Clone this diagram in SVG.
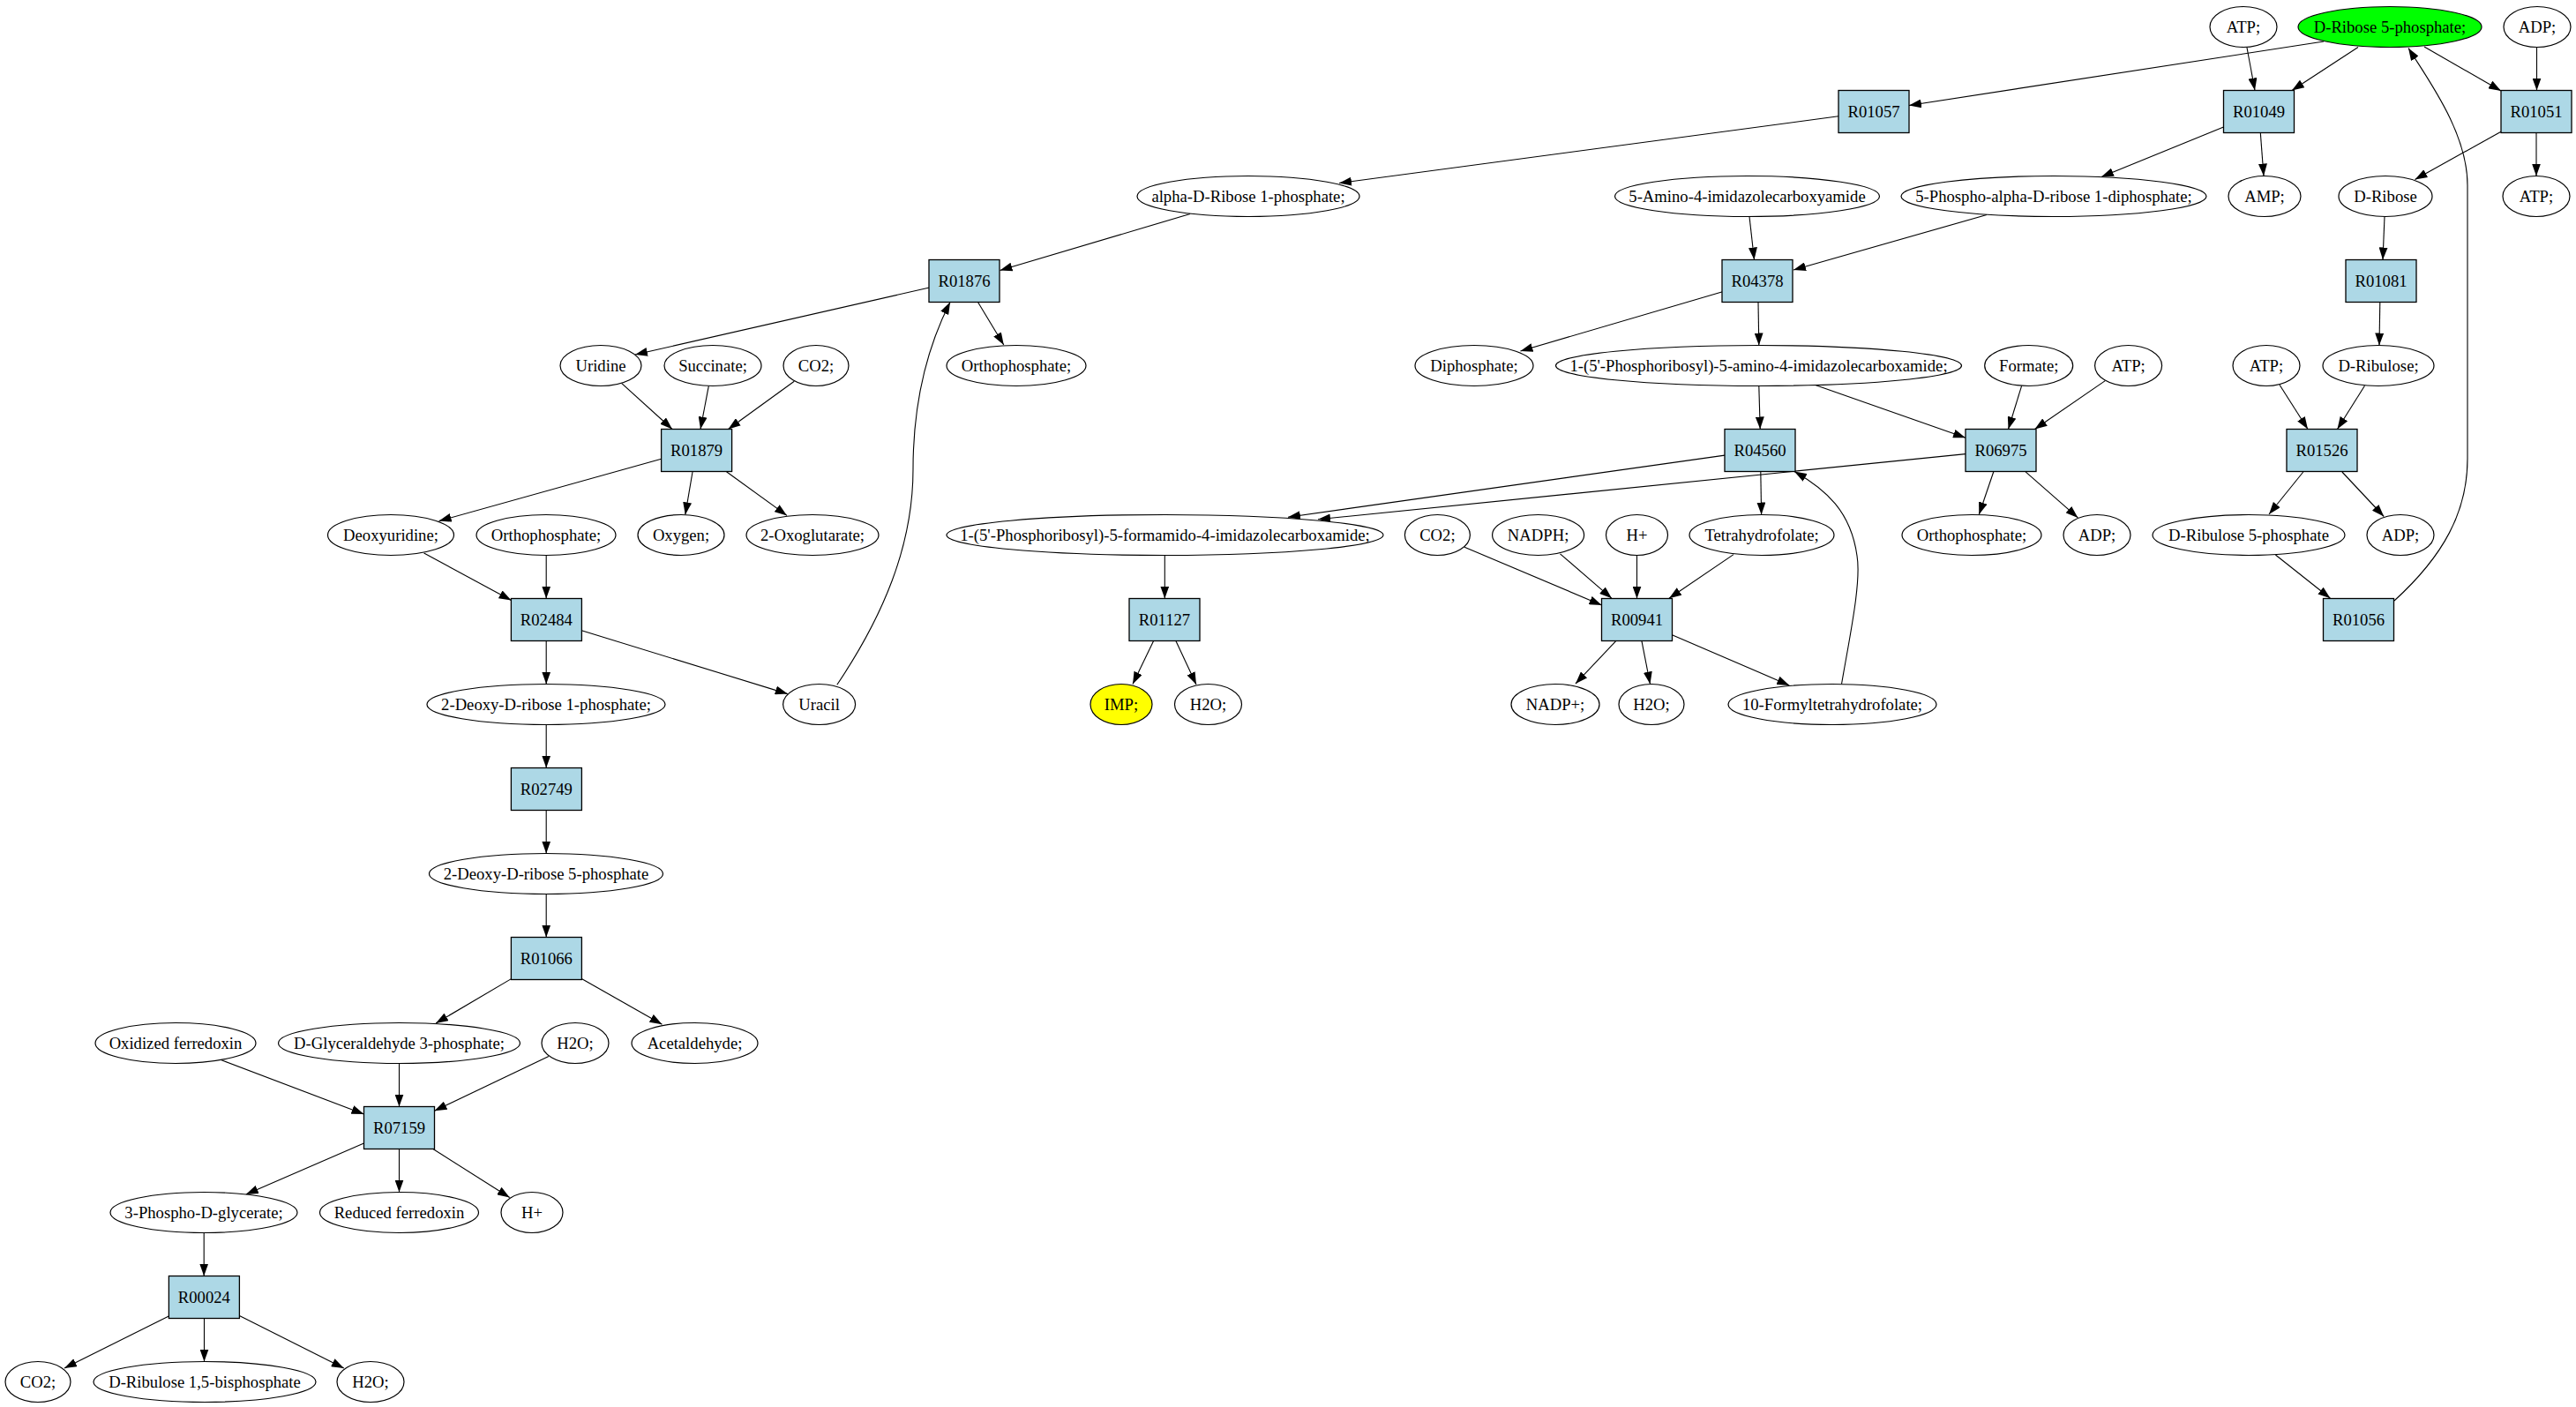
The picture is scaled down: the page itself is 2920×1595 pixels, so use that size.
<svg xmlns="http://www.w3.org/2000/svg" width="2920" height="1595" viewBox="0 0 2920 1595">
<style>
.e{fill:#ffffff;stroke:#000;stroke-width:1.2}
.g{fill:#00ff00;stroke:#000;stroke-width:1.2}
.y{fill:#ffff00;stroke:#000;stroke-width:1.2}
.r{fill:#add8e6;stroke:#000;stroke-width:1.3}
text{font-family:"Liberation Serif","Times New Roman",serif;font-size:18.67px;text-anchor:middle;fill:#000}
#edges path{fill:none;stroke:#000;stroke-width:1.1;marker-end:url(#ah)}
</style>
<defs>
<marker id="ah" markerUnits="userSpaceOnUse" markerWidth="14" markerHeight="10" viewBox="0 0 14 10" refX="14" refY="5" orient="auto">
<path d="M0,0 L14,5 L0,10 z" fill="#000"/>
</marker>
</defs>
<rect width="2920" height="1595" fill="#fff"/>
<g id="edges">
<path d="M2634,47 L2164,119.5"/>
<path d="M2673,53.5 L2598,102.5"/>
<path d="M2748,53 L2835,103"/>
<path d="M2547,54 L2556,102.5"/>
<path d="M2875.5,53.5 L2875.5,102.5"/>
<path d="M2084,131.8 L1518,207.5"/>
<path d="M2520.5,144 L2382,200.5"/>
<path d="M2562.3,150.5 L2566,199.5"/>
<path d="M2835,149.2 L2737.5,203.5"/>
<path d="M2875,150.5 L2875,199.5"/>
<path d="M1349,242.5 L1133.5,306.5"/>
<path d="M1983,245.5 L1988.5,294.5"/>
<path d="M2252,243.5 L2033,306"/>
<path d="M2703,245.5 L2701,294.5"/>
<path d="M1053.5,326 L720,402"/>
<path d="M1108.5,342.5 L1137.8,391"/>
<path d="M1952.5,330.7 L1723.5,398"/>
<path d="M1993,342.5 L1993.8,391.5"/>
<path d="M2697.8,342.5 L2697,391.5"/>
<path d="M704.5,434.4 L762,486.5"/>
<path d="M803.3,437.6 L794,486.5"/>
<path d="M900.3,432.2 L825.5,486.5"/>
<path d="M1993.8,437.5 L1995.2,486.5"/>
<path d="M2058.5,436.7 L2228,496.3"/>
<path d="M2291.6,437.4 L2276.5,486.5"/>
<path d="M2386.3,431.6 L2306.5,486.5"/>
<path d="M2584,436.3 L2616,486.5"/>
<path d="M2680.5,437.2 L2649.5,486.5"/>
<path d="M749.6,520.3 L497.6,590.6"/>
<path d="M785.1,534.5 L776.8,583.4"/>
<path d="M823.5,534.8 L892,584.4"/>
<path d="M1955,516.1 L1460,586.2"/>
<path d="M2228,514.6 L1494,588.8"/>
<path d="M1995.8,534.5 L1996.6,583.5"/>
<path d="M2259.8,534.8 L2243.3,583.3"/>
<path d="M2296.1,534.8 L2355.4,586.9"/>
<path d="M2610.8,535 L2572,583"/>
<path d="M2654.9,535 L2702.2,585.5"/>
<path d="M480.6,627 L579.5,680.5"/>
<path d="M619.2,629.5 L619.2,678.5"/>
<path d="M619.2,726.5 L619.2,775.5"/>
<path d="M659.3,714.8 L892.8,786.6"/>
<path d="M948.8,776.3 C1000,700 1035,620 1035,532 C1035,440 1058,380 1077,342.5"/>
<path d="M1320.3,629.5 L1320.3,678.5"/>
<path d="M1660.1,620.3 L1815.6,686"/>
<path d="M1768.5,627.9 L1827,678.3"/>
<path d="M1855.5,629.5 L1855.5,678.5"/>
<path d="M1965,628.6 L1892,678.3"/>
<path d="M2579.4,629 L2641.5,678.3"/>
<path d="M2714,681 C2770,630 2797,580 2797,520 L2797,210 C2797,150 2752,90 2730,54.5"/>
<path d="M1307.5,726.8 L1284,775.5"/>
<path d="M1333,726.8 L1356,776"/>
<path d="M1831.5,726.8 L1786,775"/>
<path d="M1861,726.8 L1870.5,775.5"/>
<path d="M1895.4,719.7 L2028.3,776.9"/>
<path d="M2087.5,775.5 C2097,720 2110,660 2105,630 C2098,580 2070,555 2034,534.5"/>
<path d="M619.2,821.5 L619.2,870.5"/>
<path d="M619.2,918.5 L619.2,967.5"/>
<path d="M619.2,1013.5 L619.2,1062.5"/>
<path d="M579.5,1109.6 L494,1160"/>
<path d="M659.3,1109.6 L750.5,1161.2"/>
<path d="M250.5,1201.5 L412.5,1263"/>
<path d="M452.5,1205.5 L452.5,1254.5"/>
<path d="M621.9,1197.4 L492.5,1259.2"/>
<path d="M412.5,1296.1 L278.8,1354"/>
<path d="M452.5,1302.5 L452.5,1351.5"/>
<path d="M491.3,1302.7 L577.7,1357.5"/>
<path d="M231.2,1397.5 L231.2,1446.5"/>
<path d="M191.3,1492 L73,1551"/>
<path d="M231.5,1494.5 L231.5,1543.5"/>
<path d="M271.4,1491.5 L389.8,1551"/>
</g>
<g id="n_atp1"><ellipse class="e" cx="2543" cy="30.5" rx="38" ry="23"/><text x="2543" y="36.5">ATP;</text></g>
<g id="n_dr5p"><ellipse class="g" cx="2709" cy="30.5" rx="104" ry="23"/><text x="2709" y="36.5">D-Ribose 5-phosphate;</text></g>
<g id="n_adp1"><ellipse class="e" cx="2876" cy="30.5" rx="38" ry="23"/><text x="2876" y="36.5">ADP;</text></g>
<g id="R01057"><rect class="r" x="2084" y="102.5" width="80" height="48"/><text x="2124" y="132.5">R01057</text></g>
<g id="R01049"><rect class="r" x="2520.5" y="102.5" width="80" height="48"/><text x="2560.5" y="132.5">R01049</text></g>
<g id="R01051"><rect class="r" x="2835" y="102.5" width="80" height="48"/><text x="2875" y="132.5">R01051</text></g>
<g id="n_ar1p"><ellipse class="e" cx="1415" cy="222.5" rx="126" ry="23"/><text x="1415" y="228.5">alpha-D-Ribose 1-phosphate;</text></g>
<g id="n_aica"><ellipse class="e" cx="1980.5" cy="222.5" rx="150" ry="23"/><text x="1980.5" y="228.5">5-Amino-4-imidazolecarboxyamide</text></g>
<g id="n_prpp"><ellipse class="e" cx="2328" cy="222.5" rx="173" ry="23"/><text x="2328" y="228.5">5-Phospho-alpha-D-ribose 1-diphosphate;</text></g>
<g id="n_amp"><ellipse class="e" cx="2567" cy="222.5" rx="41" ry="23"/><text x="2567" y="228.5">AMP;</text></g>
<g id="n_drib"><ellipse class="e" cx="2704" cy="222.5" rx="53" ry="23"/><text x="2704" y="228.5">D-Ribose</text></g>
<g id="n_atp2"><ellipse class="e" cx="2875" cy="222.5" rx="38" ry="23"/><text x="2875" y="228.5">ATP;</text></g>
<g id="R01876"><rect class="r" x="1053" y="294.5" width="80" height="48"/><text x="1093" y="324.5">R01876</text></g>
<g id="R04378"><rect class="r" x="1952" y="294.5" width="80" height="48"/><text x="1992" y="324.5">R04378</text></g>
<g id="R01081"><rect class="r" x="2659" y="294.5" width="80" height="48"/><text x="2699" y="324.5">R01081</text></g>
<g id="n_urid"><ellipse class="e" cx="681" cy="414.5" rx="46" ry="23"/><text x="681" y="420.5">Uridine</text></g>
<g id="n_succ"><ellipse class="e" cx="808" cy="414.5" rx="55" ry="23"/><text x="808" y="420.5">Succinate;</text></g>
<g id="n_co2a"><ellipse class="e" cx="925" cy="414.5" rx="37" ry="23"/><text x="925" y="420.5">CO2;</text></g>
<g id="n_pi1"><ellipse class="e" cx="1152" cy="414.5" rx="79" ry="23"/><text x="1152" y="420.5">Orthophosphate;</text></g>
<g id="n_ppi"><ellipse class="e" cx="1671" cy="414.5" rx="67" ry="23"/><text x="1671" y="420.5">Diphosphate;</text></g>
<g id="n_aicar"><ellipse class="e" cx="1993.5" cy="414.5" rx="230" ry="23"/><text x="1993.5" y="420.5">1-(5'-Phosphoribosyl)-5-amino-4-imidazolecarboxamide;</text></g>
<g id="n_form"><ellipse class="e" cx="2299.7" cy="414.5" rx="50" ry="23"/><text x="2299.7" y="420.5">Formate;</text></g>
<g id="n_atp3"><ellipse class="e" cx="2412.6" cy="414.5" rx="38" ry="23"/><text x="2412.6" y="420.5">ATP;</text></g>
<g id="n_atp4"><ellipse class="e" cx="2569" cy="414.5" rx="38" ry="23"/><text x="2569" y="420.5">ATP;</text></g>
<g id="n_dribu"><ellipse class="e" cx="2696" cy="414.5" rx="63" ry="23"/><text x="2696" y="420.5">D-Ribulose;</text></g>
<g id="R01879"><rect class="r" x="749.6" y="486.5" width="80" height="48"/><text x="789.6" y="516.5">R01879</text></g>
<g id="R04560"><rect class="r" x="1955" y="486.5" width="80" height="48"/><text x="1995" y="516.5">R04560</text></g>
<g id="R06975"><rect class="r" x="2228" y="486.5" width="80" height="48"/><text x="2268" y="516.5">R06975</text></g>
<g id="R01526"><rect class="r" x="2592" y="486.5" width="80" height="48"/><text x="2632" y="516.5">R01526</text></g>
<g id="n_deoxu"><ellipse class="e" cx="443" cy="606.5" rx="71.5" ry="23"/><text x="443" y="612.5">Deoxyuridine;</text></g>
<g id="n_pi2"><ellipse class="e" cx="619" cy="606.5" rx="79" ry="23"/><text x="619" y="612.5">Orthophosphate;</text></g>
<g id="n_oxy"><ellipse class="e" cx="772" cy="606.5" rx="49" ry="23"/><text x="772" y="612.5">Oxygen;</text></g>
<g id="n_oxog"><ellipse class="e" cx="921" cy="606.5" rx="75" ry="23"/><text x="921" y="612.5">2-Oxoglutarate;</text></g>
<g id="n_faicar"><ellipse class="e" cx="1320.5" cy="606.5" rx="247.5" ry="23"/><text x="1320.5" y="612.5">1-(5'-Phosphoribosyl)-5-formamido-4-imidazolecarboxamide;</text></g>
<g id="n_co2b"><ellipse class="e" cx="1629.4" cy="606.5" rx="37" ry="23"/><text x="1629.4" y="612.5">CO2;</text></g>
<g id="n_nadph"><ellipse class="e" cx="1743.6" cy="606.5" rx="52" ry="23"/><text x="1743.6" y="612.5">NADPH;</text></g>
<g id="n_h1"><ellipse class="e" cx="1855.5" cy="606.5" rx="35" ry="23"/><text x="1855.5" y="612.5">H+</text></g>
<g id="n_thf"><ellipse class="e" cx="1997" cy="606.5" rx="82" ry="23"/><text x="1997" y="612.5">Tetrahydrofolate;</text></g>
<g id="n_pi3"><ellipse class="e" cx="2235" cy="606.5" rx="79" ry="23"/><text x="2235" y="612.5">Orthophosphate;</text></g>
<g id="n_adp2"><ellipse class="e" cx="2377" cy="606.5" rx="38" ry="23"/><text x="2377" y="612.5">ADP;</text></g>
<g id="n_ru5p"><ellipse class="e" cx="2549" cy="606.5" rx="109" ry="23"/><text x="2549" y="612.5">D-Ribulose 5-phosphate</text></g>
<g id="n_adp3"><ellipse class="e" cx="2721" cy="606.5" rx="38" ry="23"/><text x="2721" y="612.5">ADP;</text></g>
<g id="R02484"><rect class="r" x="579.4" y="678.5" width="80" height="48"/><text x="619.4" y="708.5">R02484</text></g>
<g id="R01127"><rect class="r" x="1280" y="678.5" width="80" height="48"/><text x="1320" y="708.5">R01127</text></g>
<g id="R00941"><rect class="r" x="1815.5" y="678.5" width="80" height="48"/><text x="1855.5" y="708.5">R00941</text></g>
<g id="R01056"><rect class="r" x="2633.5" y="678.5" width="80" height="48"/><text x="2673.5" y="708.5">R01056</text></g>
<g id="n_dr1p"><ellipse class="e" cx="619" cy="798.5" rx="135" ry="23"/><text x="619" y="804.5">2-Deoxy-D-ribose 1-phosphate;</text></g>
<g id="n_ura"><ellipse class="e" cx="928.6" cy="798.5" rx="41" ry="23"/><text x="928.6" y="804.5">Uracil</text></g>
<g id="n_imp"><ellipse class="y" cx="1271" cy="798.5" rx="35" ry="23"/><text x="1271" y="804.5">IMP;</text></g>
<g id="n_h2o1"><ellipse class="e" cx="1369.5" cy="798.5" rx="38" ry="23"/><text x="1369.5" y="804.5">H2O;</text></g>
<g id="n_nadp"><ellipse class="e" cx="1763" cy="798.5" rx="50" ry="23"/><text x="1763" y="804.5">NADP+;</text></g>
<g id="n_h2o2"><ellipse class="e" cx="1872" cy="798.5" rx="37" ry="23"/><text x="1872" y="804.5">H2O;</text></g>
<g id="n_fthf"><ellipse class="e" cx="2077" cy="798.5" rx="118" ry="23"/><text x="2077" y="804.5">10-Formyltetrahydrofolate;</text></g>
<g id="R02749"><rect class="r" x="579.4" y="870.5" width="80" height="48"/><text x="619.4" y="900.5">R02749</text></g>
<g id="n_dr5p2"><ellipse class="e" cx="619" cy="990.5" rx="132.5" ry="23"/><text x="619" y="996.5">2-Deoxy-D-ribose 5-phosphate</text></g>
<g id="R01066"><rect class="r" x="579.4" y="1062.5" width="80" height="48"/><text x="619.4" y="1092.5">R01066</text></g>
<g id="n_oxfd"><ellipse class="e" cx="199" cy="1182.5" rx="91" ry="23"/><text x="199" y="1188.5">Oxidized ferredoxin</text></g>
<g id="n_gap"><ellipse class="e" cx="452.5" cy="1182.5" rx="137" ry="23"/><text x="452.5" y="1188.5">D-Glyceraldehyde 3-phosphate;</text></g>
<g id="n_h2o3"><ellipse class="e" cx="652" cy="1182.5" rx="38" ry="23"/><text x="652" y="1188.5">H2O;</text></g>
<g id="n_acal"><ellipse class="e" cx="787.5" cy="1182.5" rx="71.5" ry="23"/><text x="787.5" y="1188.5">Acetaldehyde;</text></g>
<g id="R07159"><rect class="r" x="412.5" y="1254.5" width="80" height="48"/><text x="452.5" y="1284.5">R07159</text></g>
<g id="n_3pg"><ellipse class="e" cx="231" cy="1374.5" rx="106" ry="23"/><text x="231" y="1380.5">3-Phospho-D-glycerate;</text></g>
<g id="n_rdfd"><ellipse class="e" cx="452.5" cy="1374.5" rx="90" ry="23"/><text x="452.5" y="1380.5">Reduced ferredoxin</text></g>
<g id="n_h2"><ellipse class="e" cx="603" cy="1374.5" rx="35" ry="23"/><text x="603" y="1380.5">H+</text></g>
<g id="R00024"><rect class="r" x="191.4" y="1446.5" width="80" height="48"/><text x="231.4" y="1476.5">R00024</text></g>
<g id="n_co2c"><ellipse class="e" cx="43" cy="1566.5" rx="37" ry="23"/><text x="43" y="1572.5">CO2;</text></g>
<g id="n_rubp"><ellipse class="e" cx="232" cy="1566.5" rx="126" ry="23"/><text x="232" y="1572.5">D-Ribulose 1,5-bisphosphate</text></g>
<g id="n_h2o4"><ellipse class="e" cx="420" cy="1566.5" rx="38" ry="23"/><text x="420" y="1572.5">H2O;</text></g>
</svg>
